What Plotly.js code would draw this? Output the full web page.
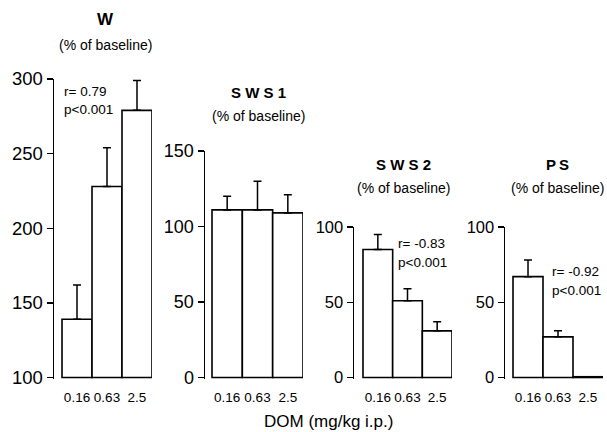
<!DOCTYPE html>
<html>
<head>
<meta charset="utf-8">
<script src="https://cdn.plot.ly/plotly-3.0.1.min.js"></script>
<style>html,body{margin:0;padding:0;background:#fff}#chart{width:607px;height:432px}</style>
</head>
<body>
<div id="chart"></div>
<script>
// ---- data ----
var doses = ['0.16', '0.63', '2.5'];
var wMean = [139, 228, 279];
var wSem = [23, 26, 20];
var sws1Mean = [111, 111, 109];
var sws1Sem = [9, 19, 12];
var sws2Mean = [85, 51, 31];
var sws2Sem = [10, 8, 6];
var psMean = [67, 27, 0.5];
var psSem = [11, 4, null];
var panelNames = ['W', 'S W S 1', 'S W S 2', 'P\u2009S'];
var subTitle = '(% of baseline)';
var stats = [['r= 0.79', 'p<0.001'], null, ['r= -0.83', 'p<0.001'], ['r= -0.92', 'p<0.001']];
var xTitle = 'DOM (mg/kg i.p.)';

var W = 607, H = 432;
var FONT = 'Liberation Sans, Arial, Helvetica, sans-serif';
function px(x) { return x / W; }
function py(y) { return 1 - y / H; }

function barTrace(mean, sem, base, ax, ay) {
  return {
    type: 'bar',
    x: doses,
    y: mean.map(function (v) { return v - base; }),
    base: base,
    xaxis: ax, yaxis: ay,
    marker: { color: '#ffffff', line: { color: '#000000', width: 1.6 } },
    error_y: {
      type: 'data', symmetric: false,
      array: sem.map(function (s) { return s == null ? NaN : s; }),
      arrayminus: sem.map(function () { return 0; }),
      color: '#000000', thickness: 1.5, width: 4,
      visible: true
    },
    hoverinfo: 'x+y',
    showlegend: false
  };
}

var data = [
  barTrace(wMean, wSem, 100, 'x', 'y'),
  barTrace(sws1Mean, sws1Sem, 0, 'x2', 'y2'),
  barTrace(sws2Mean, sws2Sem, 0, 'x3', 'y3'),
  barTrace(psMean, psSem, 0, 'x4', 'y4')
];

function xax(d0, d1, r0, anchor) {
  return {
    domain: [px(d0), px(d1)], range: [r0, 2.5], type: 'category',
    anchor: anchor, showline: false, showgrid: false, zeroline: false,
    ticks: '', ticklabelstandoff: 8,
    tickfont: { family: FONT, size: 13.5, color: '#000' },
    fixedrange: true
  };
}
function yax(ytop, ybot, r0, r1, dtick, fs, anchor) {
  return {
    domain: [py(ybot), py(ytop)], range: [r0, r1], tickmode: 'linear', tick0: 0, dtick: dtick,
    anchor: anchor, showline: true, linecolor: '#000', linewidth: 1.5,
    ticks: 'outside', ticklen: 6, tickwidth: 1.5, tickcolor: '#000',
    showgrid: false, zeroline: false,
    tickfont: { family: FONT, size: fs, color: '#000' },
    fixedrange: true
  };
}

var annotations = [];
var titlePos = [[105, 20, 45], [258, 92, 116], [403, 164, 188], [557, 164, 188]];
titlePos.forEach(function (p, i) {
  annotations.push({ xref: 'paper', yref: 'paper', x: px(p[0]), y: py(p[1]), xanchor: 'center', yanchor: 'middle',
    text: '<b>' + panelNames[i] + '</b>', showarrow: false, font: { family: FONT, size: i === 0 ? 17 : 15, color: '#000' } });
  annotations.push({ xref: 'paper', yref: 'paper', x: px(p[0]), y: py(p[2]), xanchor: 'center', yanchor: 'middle',
    text: subTitle, showarrow: false, font: { family: FONT, size: 14, color: '#000' } });
});
var statPos = [[62, 91, 109], null, [396, 243, 262], [550, 271, 290]];
stats.forEach(function (s, i) {
  if (!s) return;
  var p = statPos[i];
  annotations.push({ xref: 'paper', yref: 'paper', x: px(p[0]), y: py(p[1]), xanchor: 'left', yanchor: 'middle',
    text: s[0], showarrow: false, font: { family: FONT, size: 13.5, color: '#000' } });
  annotations.push({ xref: 'paper', yref: 'paper', x: px(p[0]), y: py(p[2]), xanchor: 'left', yanchor: 'middle',
    text: s[1], showarrow: false, font: { family: FONT, size: 13.5, color: '#000' } });
});
annotations.push({ xref: 'paper', yref: 'paper', x: px(328), y: py(421), xanchor: 'center', yanchor: 'middle',
  text: xTitle, showarrow: false, font: { family: FONT, size: 17, color: '#000' } });

var layout = {
  width: W, height: H,
  margin: { l: 0, r: 0, t: 0, b: 0 },
  paper_bgcolor: '#fff', plot_bgcolor: 'rgba(0,0,0,0)',
  bargap: 0,
  showlegend: false,
  xaxis: xax(54, 152, -0.767, 'y'),
  yaxis: yax(79, 379, 99, 300, 50, 18.5, 'x'),
  xaxis2: xax(205, 303, -0.731, 'y2'),
  yaxis2: yax(151, 379, -1, 150, 50, 18, 'x2'),
  xaxis3: xax(354, 452, -0.803, 'y3'),
  yaxis3: yax(227, 379, -1, 100, 50, 16.5, 'x3'),
  xaxis4: xax(505, 603, -0.767, 'y4'),
  yaxis4: yax(227, 379, -1, 100, 50, 16.5, 'x4'),
  annotations: annotations
};

Plotly.newPlot('chart', data, layout, { displayModeBar: false, staticPlot: true });
</script>
</body>
</html>
